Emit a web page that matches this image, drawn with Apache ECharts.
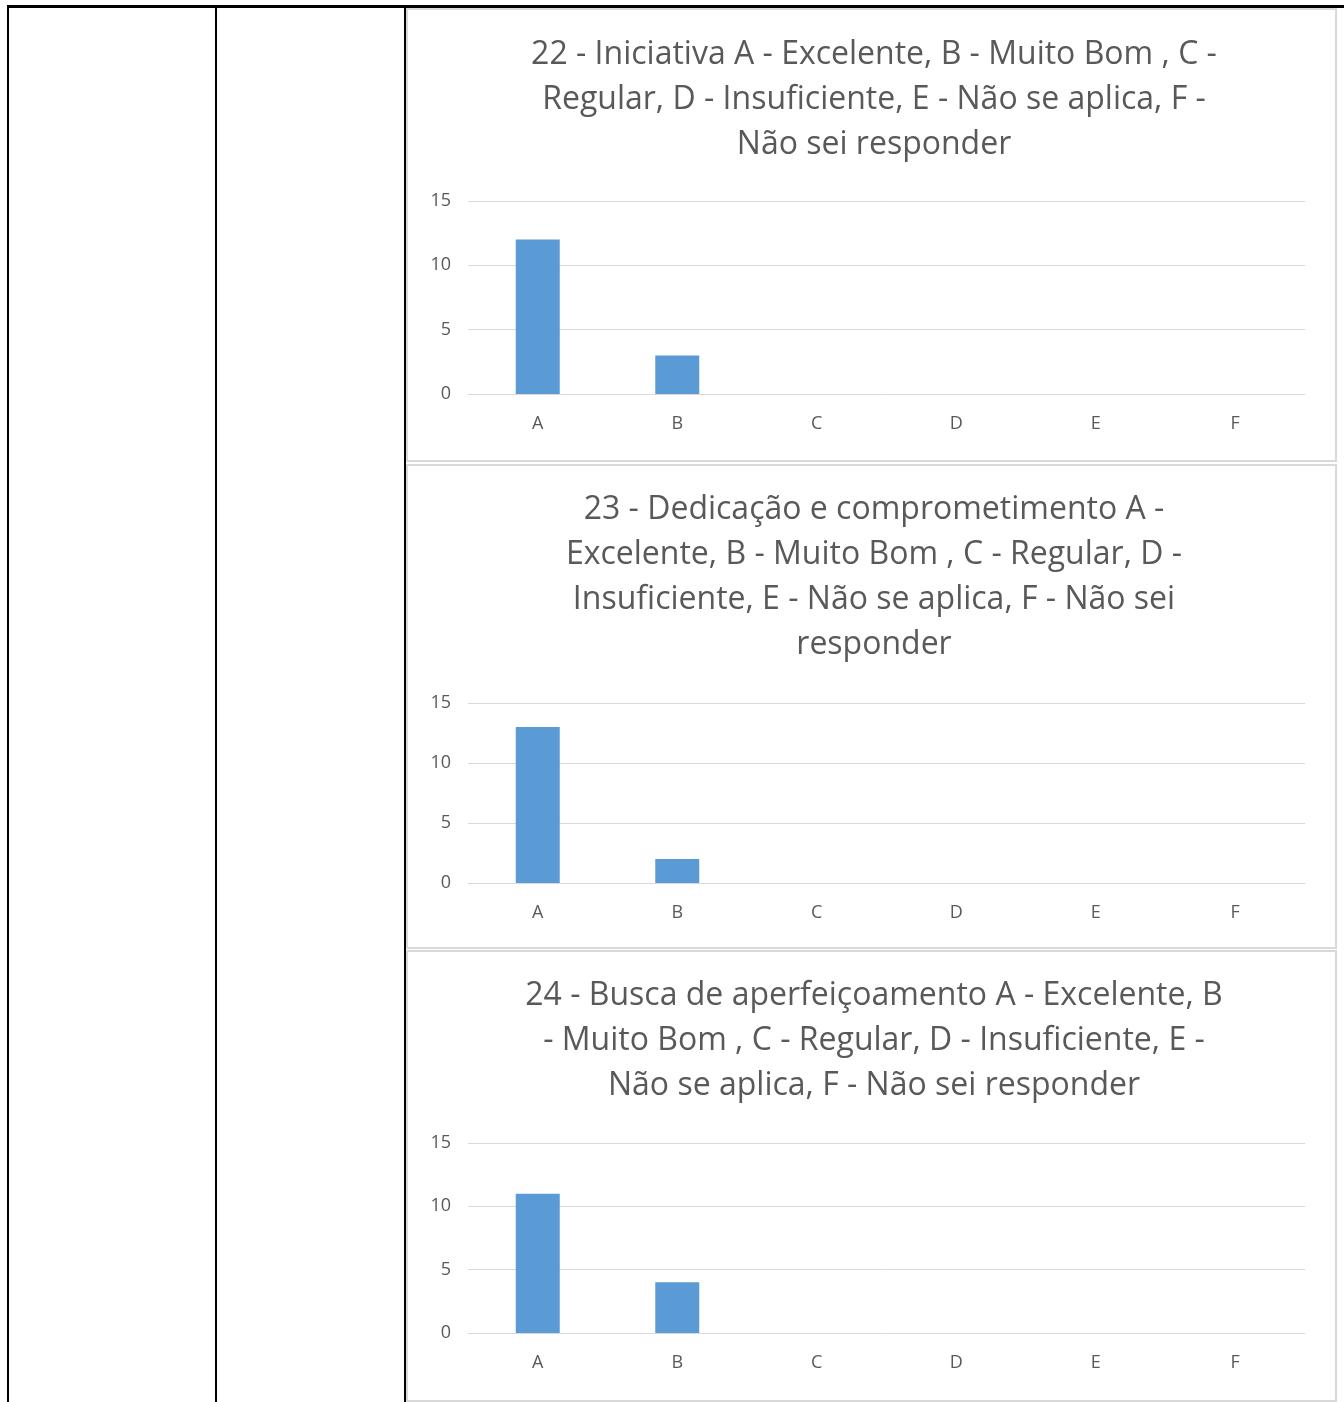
<!DOCTYPE html>
<html><head><meta charset="utf-8">
<script src="https://cdn.jsdelivr.net/npm/echarts@6/dist/echarts.min.js"></script>
<style>
html,body{margin:0;padding:0;background:#fff;}
#wrap{position:relative;width:1344px;height:1402px;overflow:hidden;}
.ln{position:absolute;background:#000;}
.pn{position:absolute;border:2px solid #d9d9d9;box-sizing:border-box;background:#fff;}
#chart{position:absolute;left:0;top:0;width:1344px;height:1402px;}
</style></head>
<body><div id="wrap">
<div class="ln" style="left:7px;top:5px;width:1337px;height:3px"></div>
<div class="ln" style="left:7px;top:5px;width:2px;height:1397px"></div>
<div class="ln" style="left:215px;top:5px;width:2px;height:1397px"></div>
<div class="ln" style="left:404px;top:5px;width:2px;height:1397px"></div>
<div class="pn" style="left:406px;top:8px;width:931px;height:454px"></div>
<div class="pn" style="left:406px;top:464px;width:931px;height:485px"></div>
<div class="pn" style="left:406px;top:950px;width:931px;height:452px"></div>
<div id="chart"></div>
</div>
<script>
const categories = ['A','B','C','D','E','F'];
const titles = [
  '22 - Iniciativa A - Excelente, B - Muito Bom , C -\nRegular, D - Insuficiente, E - Não se aplica, F -\nNão sei responder',
  '23 - Dedicação e comprometimento A -\nExcelente, B - Muito Bom , C - Regular, D -\nInsuficiente, E - Não se aplica, F - Não sei\nresponder',
  '24 - Busca de aperfeiçoamento A - Excelente, B\n- Muito Bom , C - Regular, D - Insuficiente, E -\nNão se aplica, F - Não sei responder'
];
const values22 = [12, 3, 0, 0, 0, 0];
const values23 = [13, 2, 0, 0, 0, 0];
const values24 = [11, 4, 0, 0, 0, 0];
const yTicks = [0, 5, 10, 15];

const seriesValues = [values22, values23, values24];
const grids = [
  {left:468, right:39, top:201, height:193},
  {left:468, right:39, top:703, height:180},
  {left:468, right:39, top:1143, height:190}
];
const titleTops = [27, 482, 968];
const font = '"Open Sans", sans-serif';
const grey = '#595959';

const option = {
  animation:false,
  title: titles.map((t,i)=>({
    text:t, left:869, top:titleTops[i], textAlign:'center',
    textStyle:{fontFamily:font, fontSize:32, fontWeight:'normal', color:grey, lineHeight:45}
  })),
  grid: grids,
  xAxis: grids.map((g,i)=>({
    type:'category', gridIndex:i, data:categories,
    axisLine:{lineStyle:{color:'#d9d9d9', width:1}},
    axisTick:{show:false},
    axisLabel:{color:grey, fontFamily:font, fontSize:18, margin:21}
  })),
  yAxis: grids.map((g,i)=>({
    type:'value', gridIndex:i, min:yTicks[0], max:yTicks[yTicks.length-1], interval:5,
    axisLine:{show:false}, axisTick:{show:false},
    splitLine:{lineStyle:{color:'#d9d9d9', width:1}},
    axisLabel:{color:grey, fontFamily:font, fontSize:18, margin:17}
  })),
  series: seriesValues.map((v,i)=>({
    type:'bar', xAxisIndex:i, yAxisIndex:i, data:v, barWidth:44,
    itemStyle:{color:'#5b9bd5'}
  }))
};
const chart = echarts.init(document.getElementById('chart'), null, {renderer:'canvas'});
chart.setOption(option);
</script>
</body></html>
